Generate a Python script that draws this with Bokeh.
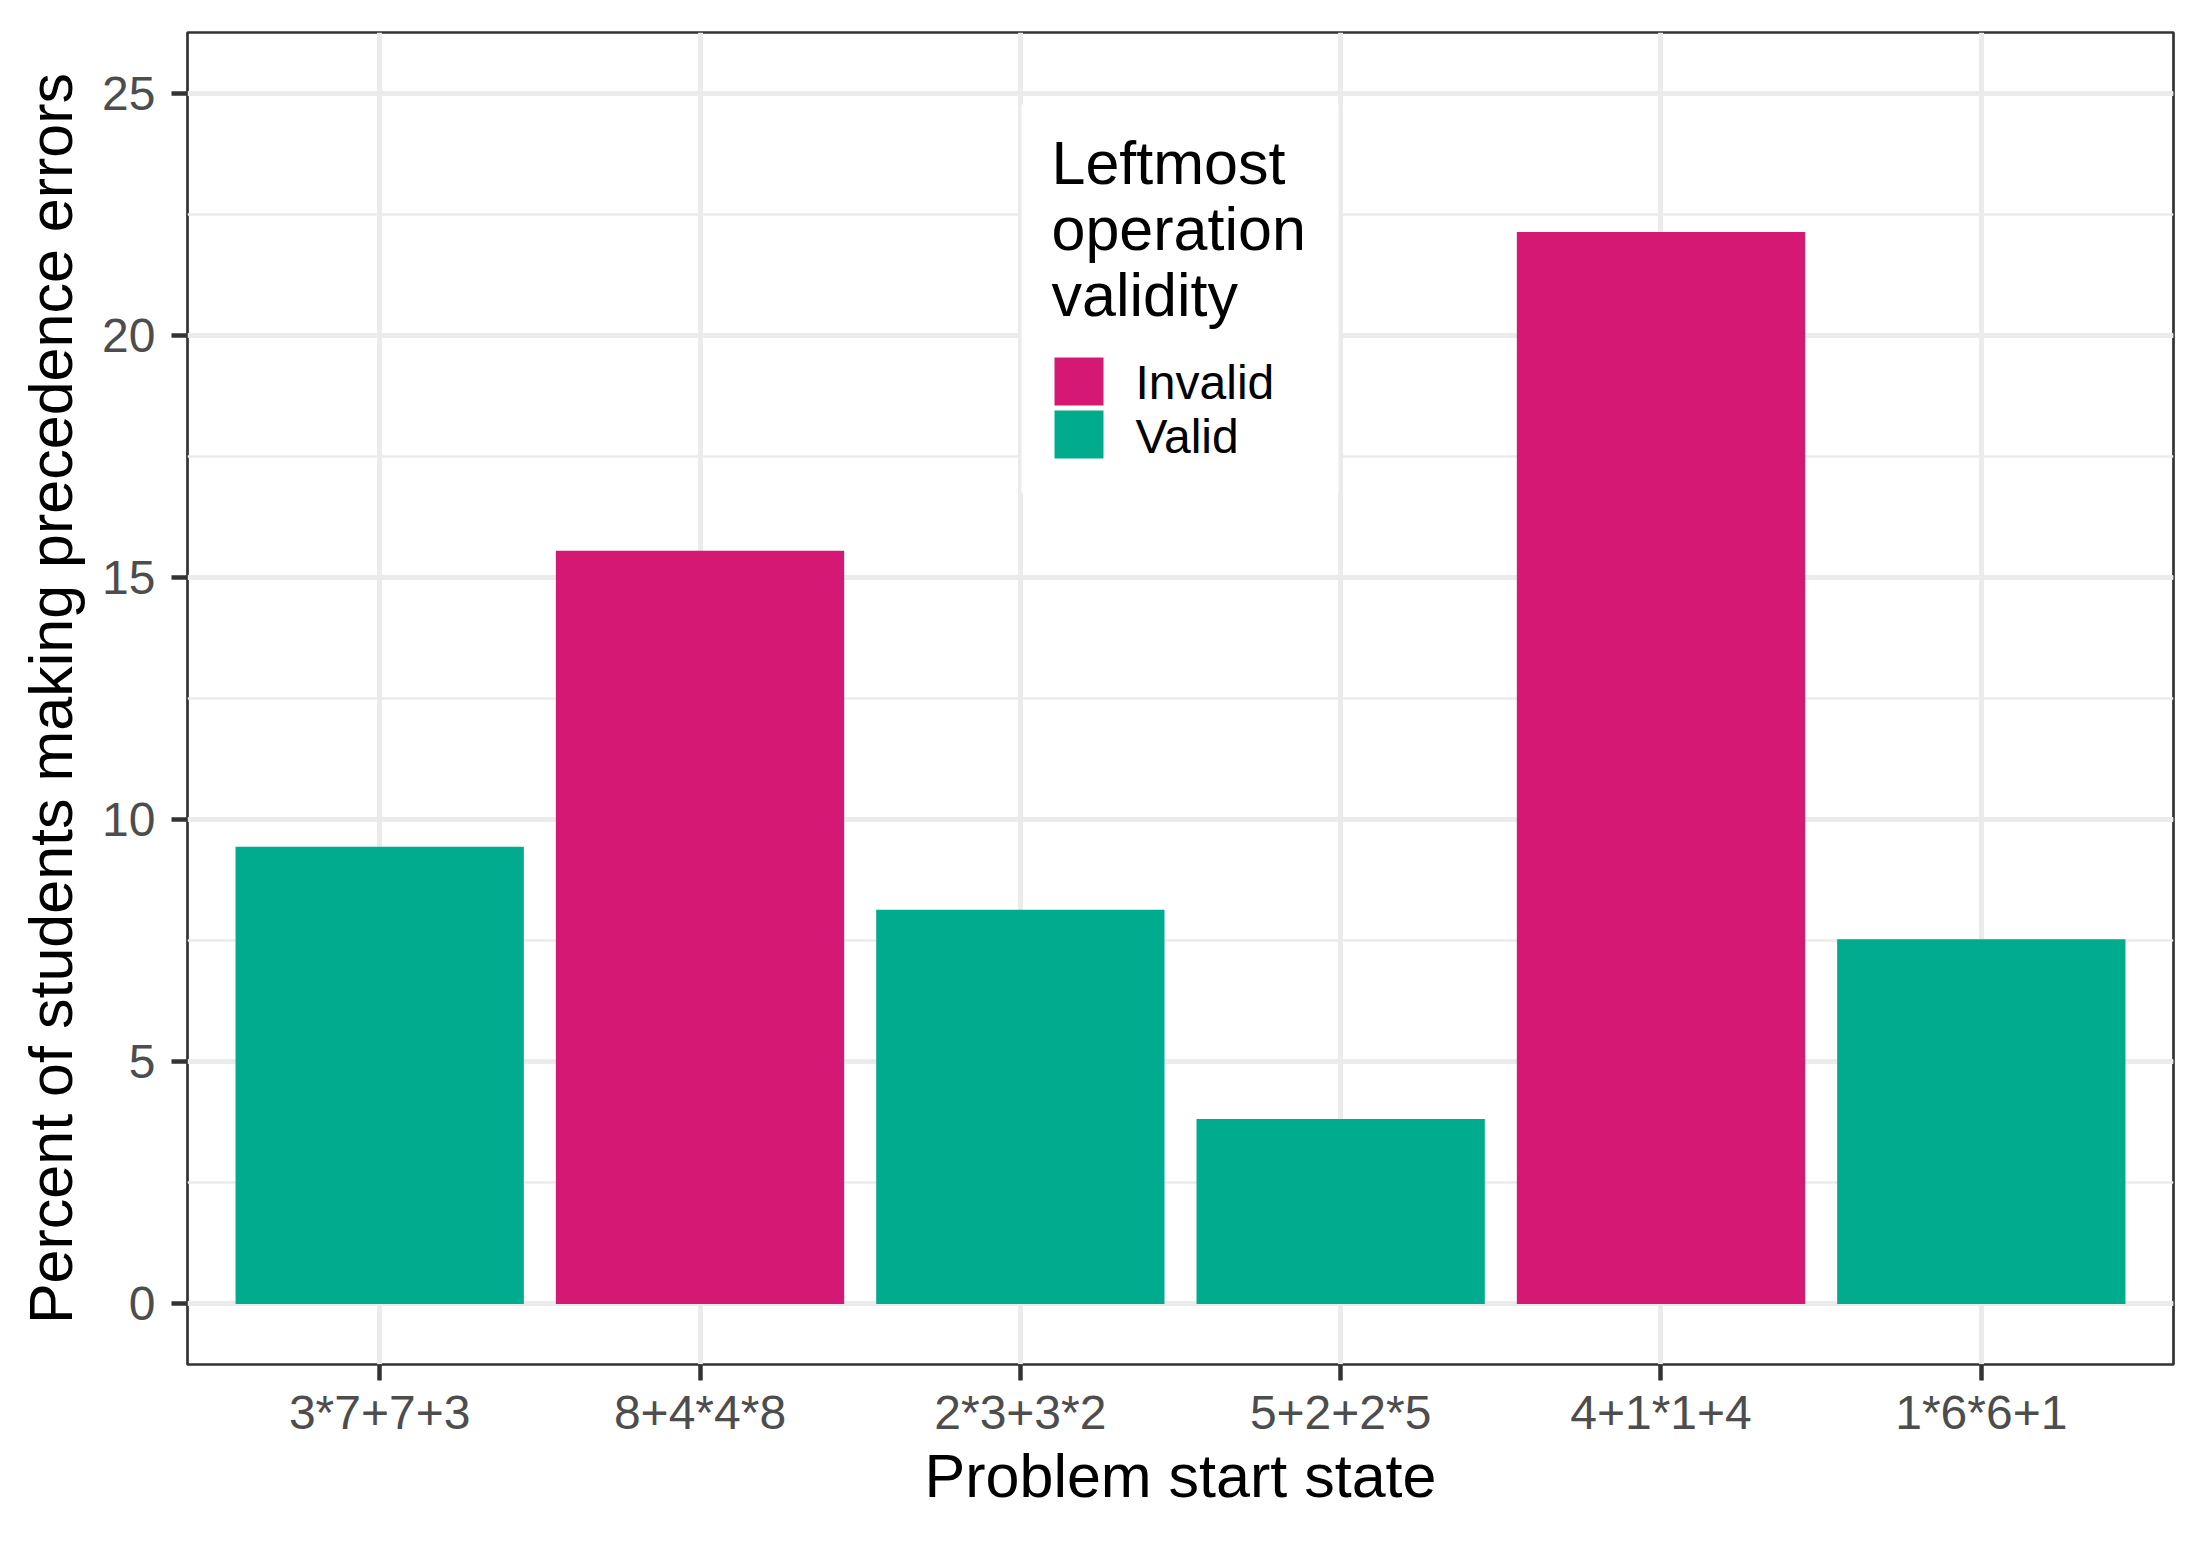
from bokeh.plotting import figure
from bokeh.models import (FactorRange, Range1d, SingleIntervalTicker, BoxAnnotation, Label)
from bokeh.embed import file_html
from bokeh.resources import INLINE

# ---- data ----
problems = ["3*7+7+3", "8+4*4*8", "2*3+3*2", "5+2+2*5", "4+1*1+4", "1*6*6+1"]
percent_errors = [9.44, 15.55, 8.14, 3.82, 22.13, 7.53]
validity = ["Valid", "Invalid", "Valid", "Valid", "Invalid", "Valid"]
validity_levels = ["Invalid", "Valid"]
validity_colors = {"Invalid": "#D41873", "Valid": "#00AB8E"}
legend_title_lines = ["Leftmost", "operation", "validity"]
y_ticks_interval = 5

FONT = "Liberation Sans"

p = figure(
    x_range=FactorRange(factors=problems, range_padding=0.2 / len(problems)),
    y_range=Range1d(-1.25, 26.25),
    frame_width=1986, frame_height=1332,
    min_border_left=187, min_border_right=16, min_border_top=32, min_border_bottom=163,
    output_backend="svg", toolbar_location=None,
    background_fill_color="white", border_fill_color="white",
)

for lvl in validity_levels:
    xs = [c for c, v in zip(problems, validity) if v == lvl]
    ys = [val for val, v in zip(percent_errors, validity) if v == lvl]
    p.vbar(x=xs, top=ys, bottom=0, width=0.9,
           fill_color=validity_colors[lvl], line_color=None)

# panel border
p.outline_line_color = "#333333"
p.outline_line_width = 2.7

# grids
p.xgrid.grid_line_color = "#EBEBEB"
p.xgrid.grid_line_width = 5
p.ygrid.grid_line_color = "#EBEBEB"
p.ygrid.grid_line_width = 5
p.ygrid.minor_grid_line_color = "#EBEBEB"
p.ygrid.minor_grid_line_width = 2.7
p.ygrid.ticker = SingleIntervalTicker(interval=y_ticks_interval, num_minor_ticks=2)
p.yaxis.ticker = SingleIntervalTicker(interval=y_ticks_interval, num_minor_ticks=2)

for ax in (p.xaxis[0], p.yaxis[0]):
    ax.axis_line_color = None
    ax.major_tick_line_color = "#333333"
    ax.major_tick_line_width = 4.5
    ax.major_tick_out = 16
    ax.major_tick_in = 0
    ax.minor_tick_line_color = None
    ax.major_label_text_font = FONT
    ax.major_label_text_font_size = "48px"
    ax.major_label_text_color = "#4D4D4D"
    ax.axis_label_text_font = FONT
    ax.axis_label_text_font_size = "61px"
    ax.axis_label_text_font_style = "normal"
    ax.axis_label_text_color = "black"

p.xaxis.axis_label = "Problem start state"
p.yaxis.axis_label = "Percent of students making precedence errors"
p.yaxis.major_label_standoff = 16
p.yaxis.axis_label_standoff = 14
p.xaxis.major_label_standoff = 5
p.xaxis.axis_label_standoff = 0

# ---- legend (inside the panel, screen units from frame bottom-left) ----
p.add_layout(BoxAnnotation(left=834, right=1151, bottom=872, top=1260,
                           left_units="screen", right_units="screen",
                           bottom_units="screen", top_units="screen",
                           fill_color="white", fill_alpha=1.0, line_color=None,
                           level="annotation"))
title_baselines = [1202, 1136, 1070]
for txt, yb in zip(legend_title_lines, title_baselines):
    p.add_layout(Label(x=864, y=yb, x_units="screen", y_units="screen", text=txt,
                       text_font=FONT, text_font_size="61px", text_color="black",
                       text_baseline="alphabetic", text_align="left"))
key_tops = [1007, 954]
label_baselines = [982, 928]
for lvl, kt, lb in zip(validity_levels, key_tops, label_baselines):
    p.add_layout(BoxAnnotation(left=867, right=916, top=kt, bottom=kt - 48,
                               left_units="screen", right_units="screen",
                               bottom_units="screen", top_units="screen",
                               fill_color=validity_colors[lvl], fill_alpha=1.0,
                               line_color=None, level="annotation"))
    p.add_layout(Label(x=948, y=lb, x_units="screen", y_units="screen", text=lvl,
                       text_font=FONT, text_font_size="48px", text_color="black",
                       text_baseline="alphabetic", text_align="left"))

open("out.html", "w").write(file_html(p, INLINE))
